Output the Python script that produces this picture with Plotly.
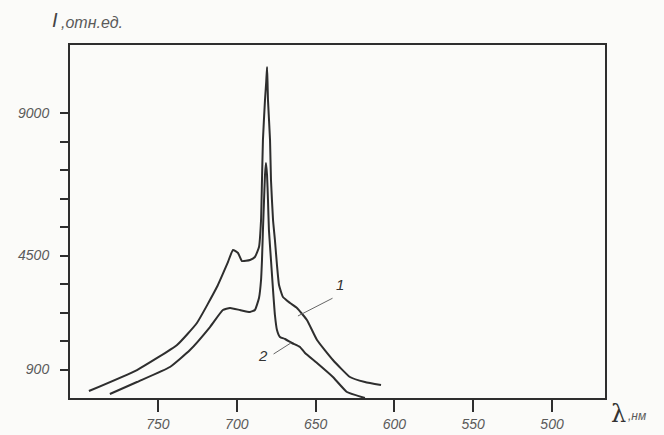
import plotly.graph_objects as go

# Curve 1 (outer): wavelength (nm) and intensity (rel. units)
wl1 = [793.8, 763.3, 737.9, 725.3, 712.6, 705.6, 702.4, 699.2, 696.7, 691.6, 688.5,
       685.9, 684.6, 684.0, 683.4, 682.1, 681.3, 680.8, 680.5, 680.2, 678.9, 678.3,
       677.0, 675.8, 674.5, 673.2, 670.7, 666.2, 661.8, 655.5, 649.1, 639.0, 628.2,
       618.7, 608.5]
int1 = [221, 884, 1674, 2369, 3505, 4295, 4674, 4579, 4326, 4358, 4453,
        4769, 5621, 6884, 8148, 9411, 10000, 10453, 10000, 9411, 8148, 6884,
        5621, 4990, 4200, 3569, 3190, 3000, 2842, 2463, 1832, 1200, 663,
        505, 410]

# Curve 2 (inner)
wl2 = [780.5, 763.3, 742.4, 729.7, 717.0, 708.8, 704.3, 698.0, 691.6, 688.5, 685.9,
       684.6, 684.0, 683.4, 682.7, 682.1, 681.5, 680.8, 680.2, 679.6, 678.3, 677.0,
       675.8, 674.5, 672.6, 669.4, 665.0, 659.9, 656.7, 649.1, 639.0, 630.1, 618.7]
int2 = [126, 505, 979, 1516, 2242, 2779, 2842, 2779, 2716, 2779, 3158,
        3726, 4358, 5305, 6253, 7042, 7421, 7042, 6253, 5305, 4358, 3411,
        2621, 2147, 1926, 1863, 1737, 1611, 1421, 1105, 663, 189, 0]

x_ticks = [750, 700, 650, 600, 550, 500]
y_ticks = [900, 1800, 2700, 3600, 4500, 5400, 6300, 7200, 8100, 9000]
y_labels = ["900", "", "", "", "4500", "", "", "", "", "9000"]

line_col = "#2e2e2e"
txt_col = "#5a5a5a"
fnt = "Liberation Sans"

fig = go.Figure()
fig.add_trace(go.Scatter(x=wl1, y=int1, mode="lines",
                         line=dict(color=line_col, width=2, shape="spline", smoothing=0.4),
                         showlegend=False))
fig.add_trace(go.Scatter(x=wl2, y=int2, mode="lines",
                         line=dict(color=line_col, width=2, shape="spline", smoothing=0.4),
                         showlegend=False))

# curve labels with leader lines (data coords)
fig.add_annotation(x=661.2, y=2590, ax=638.3, ay=3175, axref="x", ayref="y",
                   text="", showarrow=True, arrowhead=0, arrowwidth=1, arrowcolor="#666")
fig.add_annotation(x=634.5, y=3600, text="<i>1</i>", showarrow=False,
                   font=dict(family=fnt, size=15, color="#333"))
fig.add_annotation(x=665.6, y=1740, ax=677.6, ay=1360, axref="x", ayref="y",
                   text="", showarrow=True, arrowhead=0, arrowwidth=1, arrowcolor="#666")
fig.add_annotation(x=683.5, y=1350, text="<i>2</i>", showarrow=False,
                   font=dict(family=fnt, size=15, color="#333"))

# axis titles
fig.add_annotation(xref="paper", yref="paper", x=-0.038, y=1.035, xanchor="left", yanchor="bottom",
                   text="<i>I</i>", showarrow=False, font=dict(family=fnt, size=20, color="#444"))
fig.add_annotation(xref="paper", yref="paper", x=-0.02, y=1.035, xanchor="left", yanchor="bottom",
                   text="<i>,отн.ед.</i>", showarrow=False, font=dict(family=fnt, size=16, color=txt_col))
fig.add_annotation(xref="paper", yref="paper", x=1.008, y=-0.045, xanchor="left", yanchor="middle",
                   text="λ", showarrow=False, font=dict(family="DejaVu Serif", size=24, color="#333"))
fig.add_annotation(xref="paper", yref="paper", x=1.04, y=-0.05, xanchor="left", yanchor="middle",
                   text="<i>,нм</i>", showarrow=False, font=dict(family=fnt, size=12, color=txt_col))

fig.update_xaxes(range=[805.8, 466.4], tickvals=x_ticks,
                 ticktext=["<i>%d</i>" % v for v in x_ticks],
                 ticks="outside", ticklen=12, tickwidth=1.5, tickcolor=line_col,
                 ticklabelstandoff=0, automargin=False,
                 showline=True, linewidth=2, linecolor=line_col, mirror=True,
                 showgrid=False, zeroline=False,
                 tickfont=dict(family=fnt, size=14, color=txt_col))
fig.update_yaxes(range=[0, 11148], tickvals=y_ticks,
                 ticktext=["<i>%s</i>" % s if s else "" for s in y_labels],
                 ticks="outside", ticklen=8, tickwidth=1.5, tickcolor=line_col,
                 ticklabelstandoff=8, automargin=False,
                 showline=True, linewidth=2, linecolor=line_col, mirror=True,
                 showgrid=False, zeroline=False,
                 tickfont=dict(family=fnt, size=14, color=txt_col))

fig.update_layout(width=664, height=435, margin=dict(l=70, r=59, t=45, b=37),
                  paper_bgcolor="#fbfbf9", plot_bgcolor="#fbfbf9")

fig.write_html("out.html")
